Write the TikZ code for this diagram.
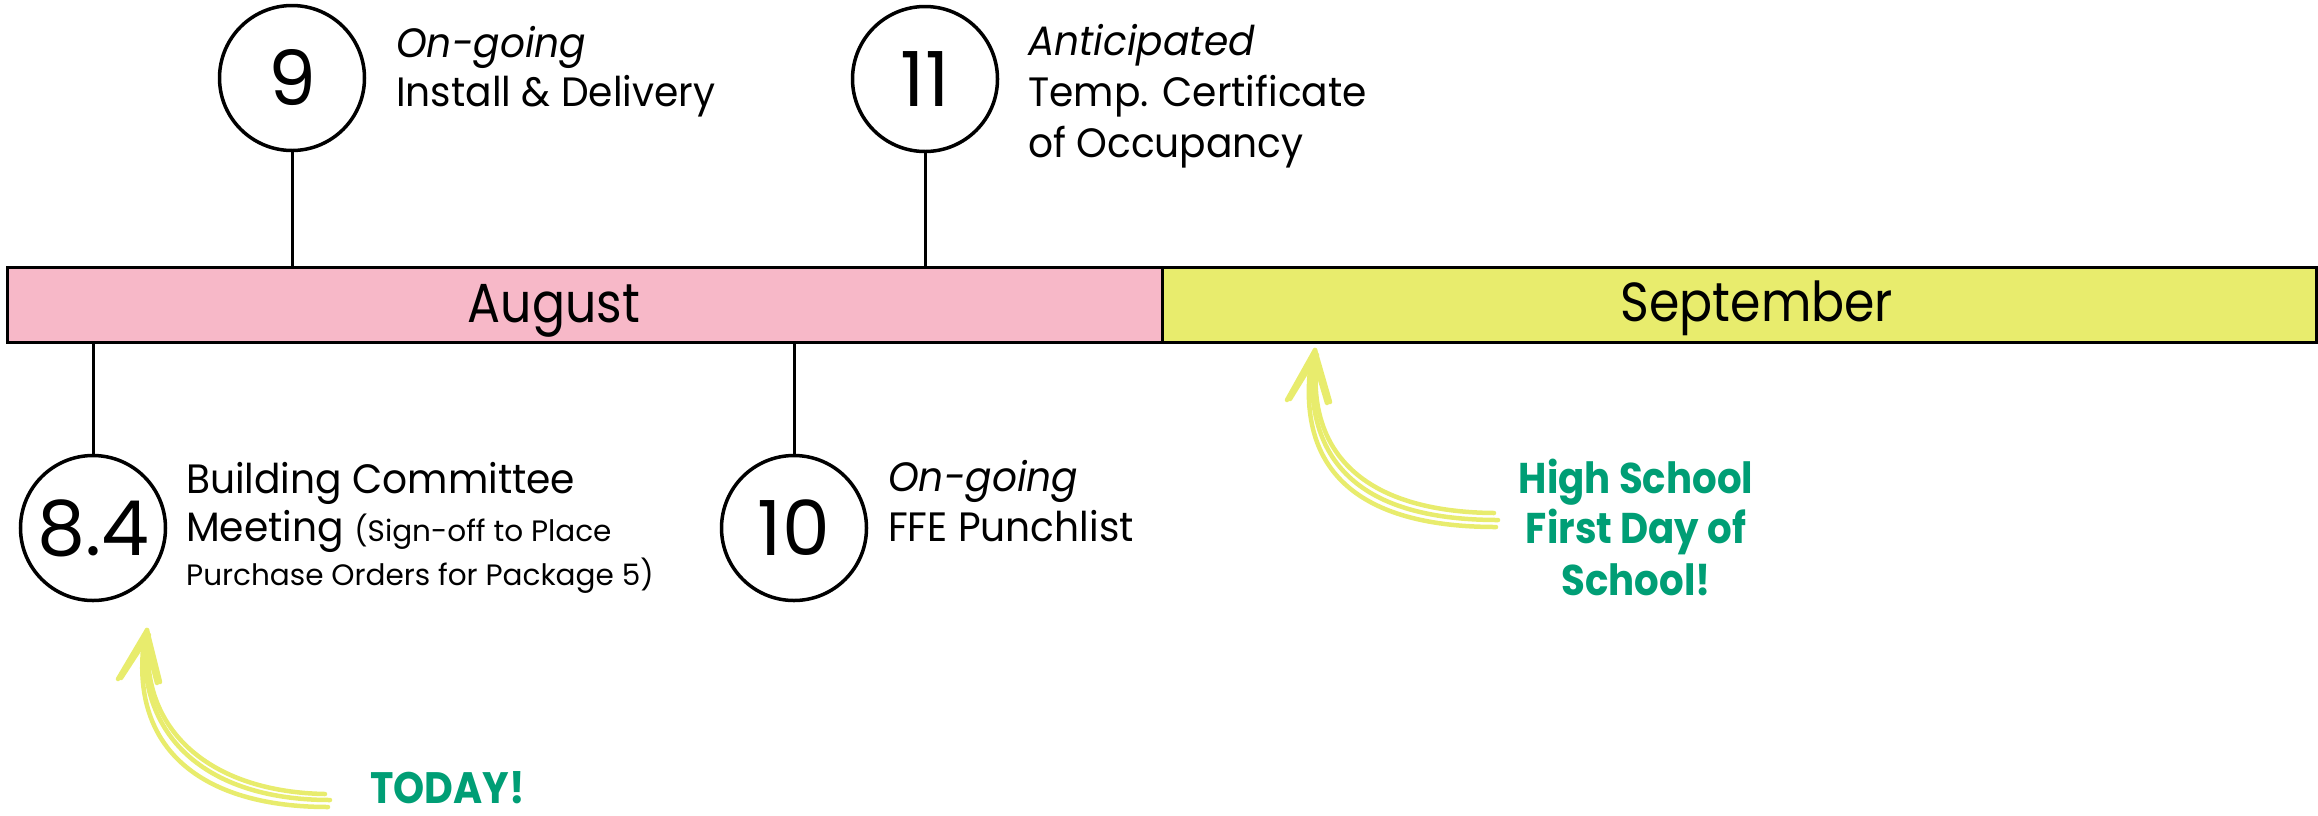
\documentclass[tikz,border=0pt]{standalone}
\usepackage{fontspec}
\setmainfont{Poppins}[FakeStretch=0.955]
\newfontfamily\digitfont{Poppins}
\newfontfamily\monthfont{Poppins}[FakeStretch=0.89]
\newfontfamily\notefont{Poppins}[FakeStretch=0.9]
\definecolor{augpink}{HTML}{F7B8C8}
\definecolor{sepyellow}{HTML}{E8EC6D}
\definecolor{hlyellow}{HTML}{E8EC6D}
\definecolor{hsgreen}{HTML}{009E75}
\begin{document}
\begin{tikzpicture}[x=1pt,y=-1pt,
  circ/.style={circle,draw,line width=3.5pt,minimum size=145pt,inner sep=0pt,font=\digitfont\fontsize{76}{76}\selectfont},
  stem/.style={line width=3pt},
  monthbox/.style={draw,line width=3pt,minimum height=75pt,inner sep=0pt},
  month/.style={anchor=base,inner sep=0pt,font=\monthfont\fontsize{55}{55}\selectfont},
  txt/.style={anchor=base west,inner sep=0pt,font=\fontsize{41}{41}\selectfont},
  smalltxt/.style={txt,font=\digitfont\fontsize{29.5}{29.5}\selectfont},
  note/.style={anchor=base,inner sep=0pt,text=hsgreen,font=\notefont\bfseries\fontsize{43}{43}\selectfont},
  sketch/.style={draw=hlyellow,line width=4.5pt,line cap=round,line join=round}]
\useasboundingbox (0,0) rectangle (2318,815);

% month bar
\node[monthbox,fill=augpink,minimum width=1155pt] (aug) at (584.5,304.5) {};
\node[monthbox,fill=sepyellow,minimum width=1154pt] (sep) at (1739,304.5) {};
\node[month] (augl) at (554,322) {August};
\node[month] (sepl) at (1757,321) {September};

% milestones
\node[circ,fill=white] (c9) at (292,78) {9};
\node[circ,fill=white] (c11) at (925,79) {11};
\node[circ,fill=white] (c84) at (93,528) {8.4};
\node[circ,fill=white] (c10) at (794,528) {10};

\draw[stem] (c9.south) -- (c9.south |- aug.north);
\draw[stem] (c11.south) -- (c11.south |- aug.north);
\draw[stem] (c84.north) -- (c84.north |- aug.south);
\draw[stem] (c10.north) -- (c10.north |- aug.south);

% labels
\node[txt] (t9a) at (396,57) {\itshape On-going};
\node[txt] (t9b) at (396,106) {Install \& Delivery};
\node[txt] (t11a) at (1028,55) {\itshape Anticipated};
\node[txt] (t11b) at (1028,106) {Temp. Certificate};
\node[txt] (t11c) at (1028,157) {of Occupancy};
\node[txt] (t84a) at (186,493) {Building Committee};
\node[txt] (t84b) at (186,541) {Meeting {\digitfont\fontsize{29.5}{29.5}\selectfont(Sign-off to Place}};
\node[smalltxt] (t84c) at (186,585) {Purchase Orders for Package 5)};
\node[txt] (t10a) at (888,491) {\itshape On-going};
\node[txt] (t10b) at (888,541) {FFE Punchlist};

% notes
\node[note] (hs1) at (1636,493) {High School};
\node[note] (hs2) at (1636,543) {First Day of};
\node[note] (hs3) at (1636,595) {School!};
\node[note,anchor=base west] (today) at (370,803) {\fontsize{44}{44}\selectfont TODAY!};

% sketchy arrow to 8.4
\coordinate (tip1) at (147,630);
\draw[sketch] (145,638) .. controls (138,740) and (210,800) .. (330,800);
\draw[sketch] (148,645) .. controls (144,735) and (215,792) .. (325,794);
\draw[sketch] (143,650) .. controls (134,752) and (205,807) .. (328,807);
\draw[sketch] (tip1) -- (118,679);
\draw[sketch] (149,635) -- (121,678);
\draw[sketch] (tip1) -- (160,682);
\draw[sketch] (145,637) -- (157,683);

% sketchy arrow to September
\coordinate (tip2) at (1315,350);
\draw[sketch] (1313,358) .. controls (1303,470) and (1370,520) .. (1498,520);
\draw[sketch] (1316,365) .. controls (1309,462) and (1375,512) .. (1494,513);
\draw[sketch] (1310,370) .. controls (1299,476) and (1365,527) .. (1496,527);
\draw[sketch] (tip2) -- (1287,400);
\draw[sketch] (1317,355) -- (1290,399);
\draw[sketch] (tip2) -- (1330,402);
\draw[sketch] (1313,356) -- (1327,403);
\end{tikzpicture}
\end{document}
